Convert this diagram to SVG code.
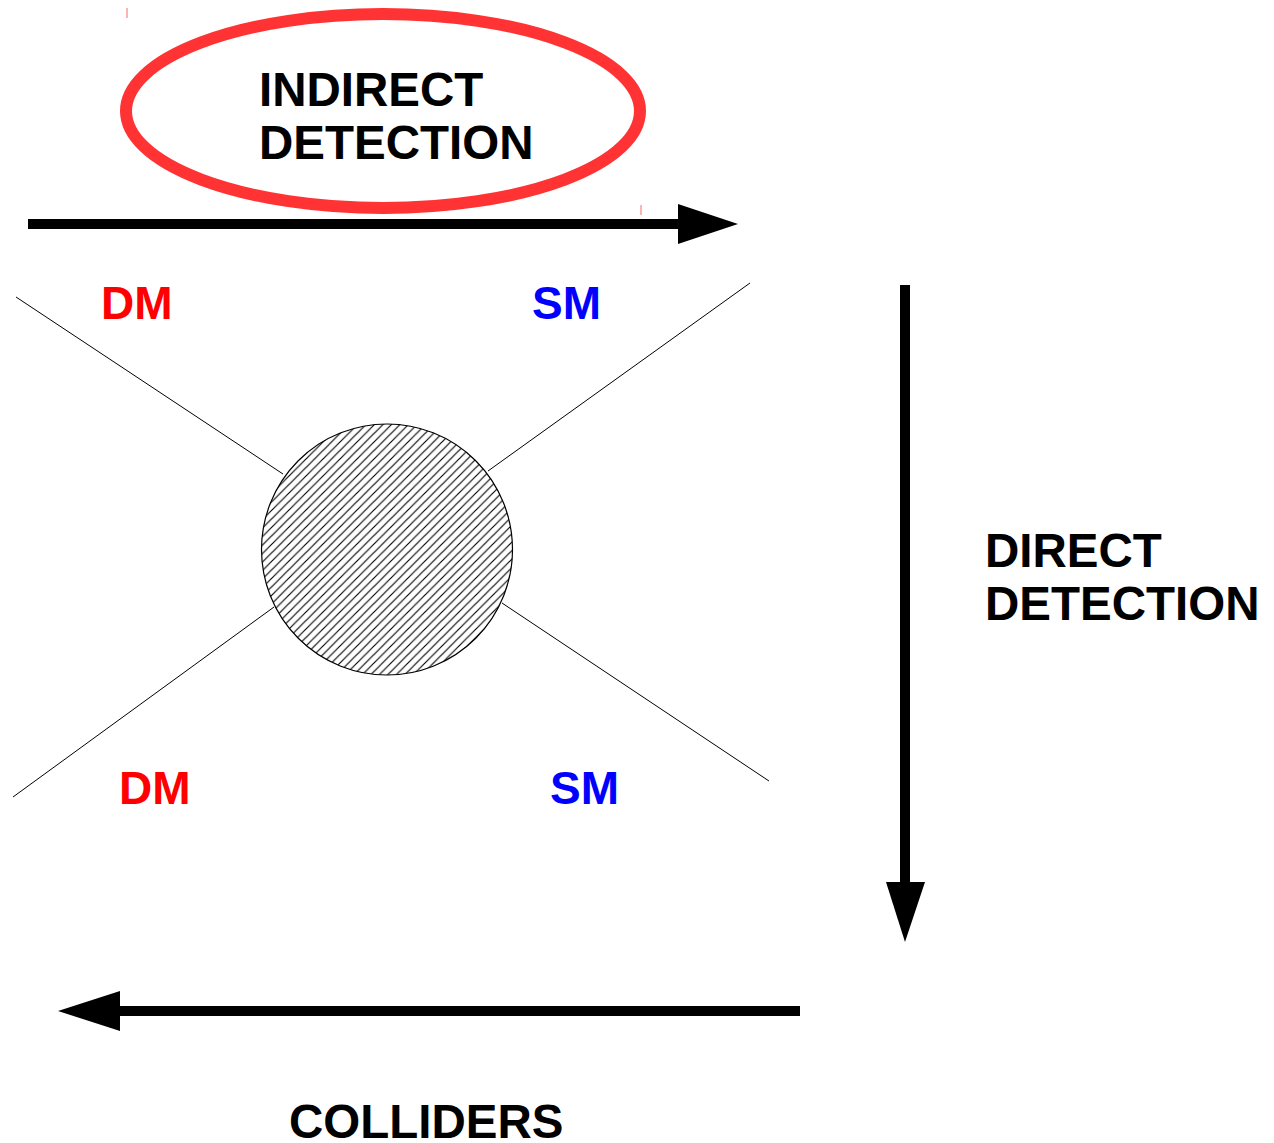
<svg xmlns="http://www.w3.org/2000/svg" width="1274" height="1143" viewBox="0 0 1274 1143">
<style>
.lbl{font-family:"Liberation Sans",Arial,sans-serif;font-weight:bold;font-size:47.5px;fill:#000}
.dm{font-family:"Liberation Sans",Arial,sans-serif;font-weight:bold;font-size:46px;fill:#ff0000}
.sm{font-family:"Liberation Sans",Arial,sans-serif;font-weight:bold;font-size:46px;fill:#0000ff}
.leg{stroke:#000;stroke-width:1;fill:none}
.shaft{stroke:#000;stroke-width:10;fill:none}
</style>
<defs>
<pattern id="hatch" patternUnits="userSpaceOnUse" width="8.5" height="8.5">
<path d="M-1,1 L1,-1 M0,8.5 L8.5,0 M7.5,9.5 L9.5,7.5" stroke="#000" stroke-width="1.15"/>
</pattern>
</defs>
<rect width="1274" height="1143" fill="#fff"/>
<g id="artifacts" stroke="#ff6666" stroke-width="1">
<line x1="127" y1="8" x2="127" y2="18"/>
<line x1="641" y1="205" x2="641" y2="215"/>
</g>
<g id="legs">
<line class="leg" x1="16" y1="297" x2="283" y2="474"/>
<line class="leg" x1="750" y1="283" x2="488" y2="471"/>
<line class="leg" x1="13" y1="797" x2="274" y2="607"/>
<line class="leg" x1="769" y1="781" x2="502" y2="603"/>
</g>
<g id="connectors">
<line class="shaft" x1="28" y1="224" x2="682" y2="224"/>
<polygon points="678,204 738,224 678,244" fill="#000"/>
<line class="shaft" x1="905" y1="285" x2="905" y2="886"/>
<polygon points="886,882 925,882 905,942" fill="#000"/>
<line class="shaft" x1="800" y1="1011" x2="116" y2="1011"/>
<polygon points="120,991 120,1031 58,1011" fill="#000"/>
</g>
<g id="blob">
<circle cx="387" cy="549.5" r="125.5" fill="url(#hatch)" stroke="#000" stroke-width="1.2"/>
</g>
<g id="indirect">
<ellipse cx="383" cy="111" rx="257" ry="97" fill="none" stroke="#ff3333" stroke-width="12"/>
<text class="lbl" x="259" y="106">INDIRECT</text>
<text class="lbl" x="259" y="159">DETECTION</text>
</g>
<g id="direct">
<text class="lbl" x="985" y="567">DIRECT</text>
<text class="lbl" x="985" y="620">DETECTION</text>
</g>
<g id="colliders">
<text class="lbl" x="289" y="1138">COLLIDERS</text>
</g>
<g id="dm-top"><text class="dm" x="101" y="319">DM</text></g>
<g id="sm-top"><text class="sm" x="532" y="319">SM</text></g>
<g id="dm-bottom"><text class="dm" x="119" y="804">DM</text></g>
<g id="sm-bottom"><text class="sm" x="550" y="804">SM</text></g>
</svg>
